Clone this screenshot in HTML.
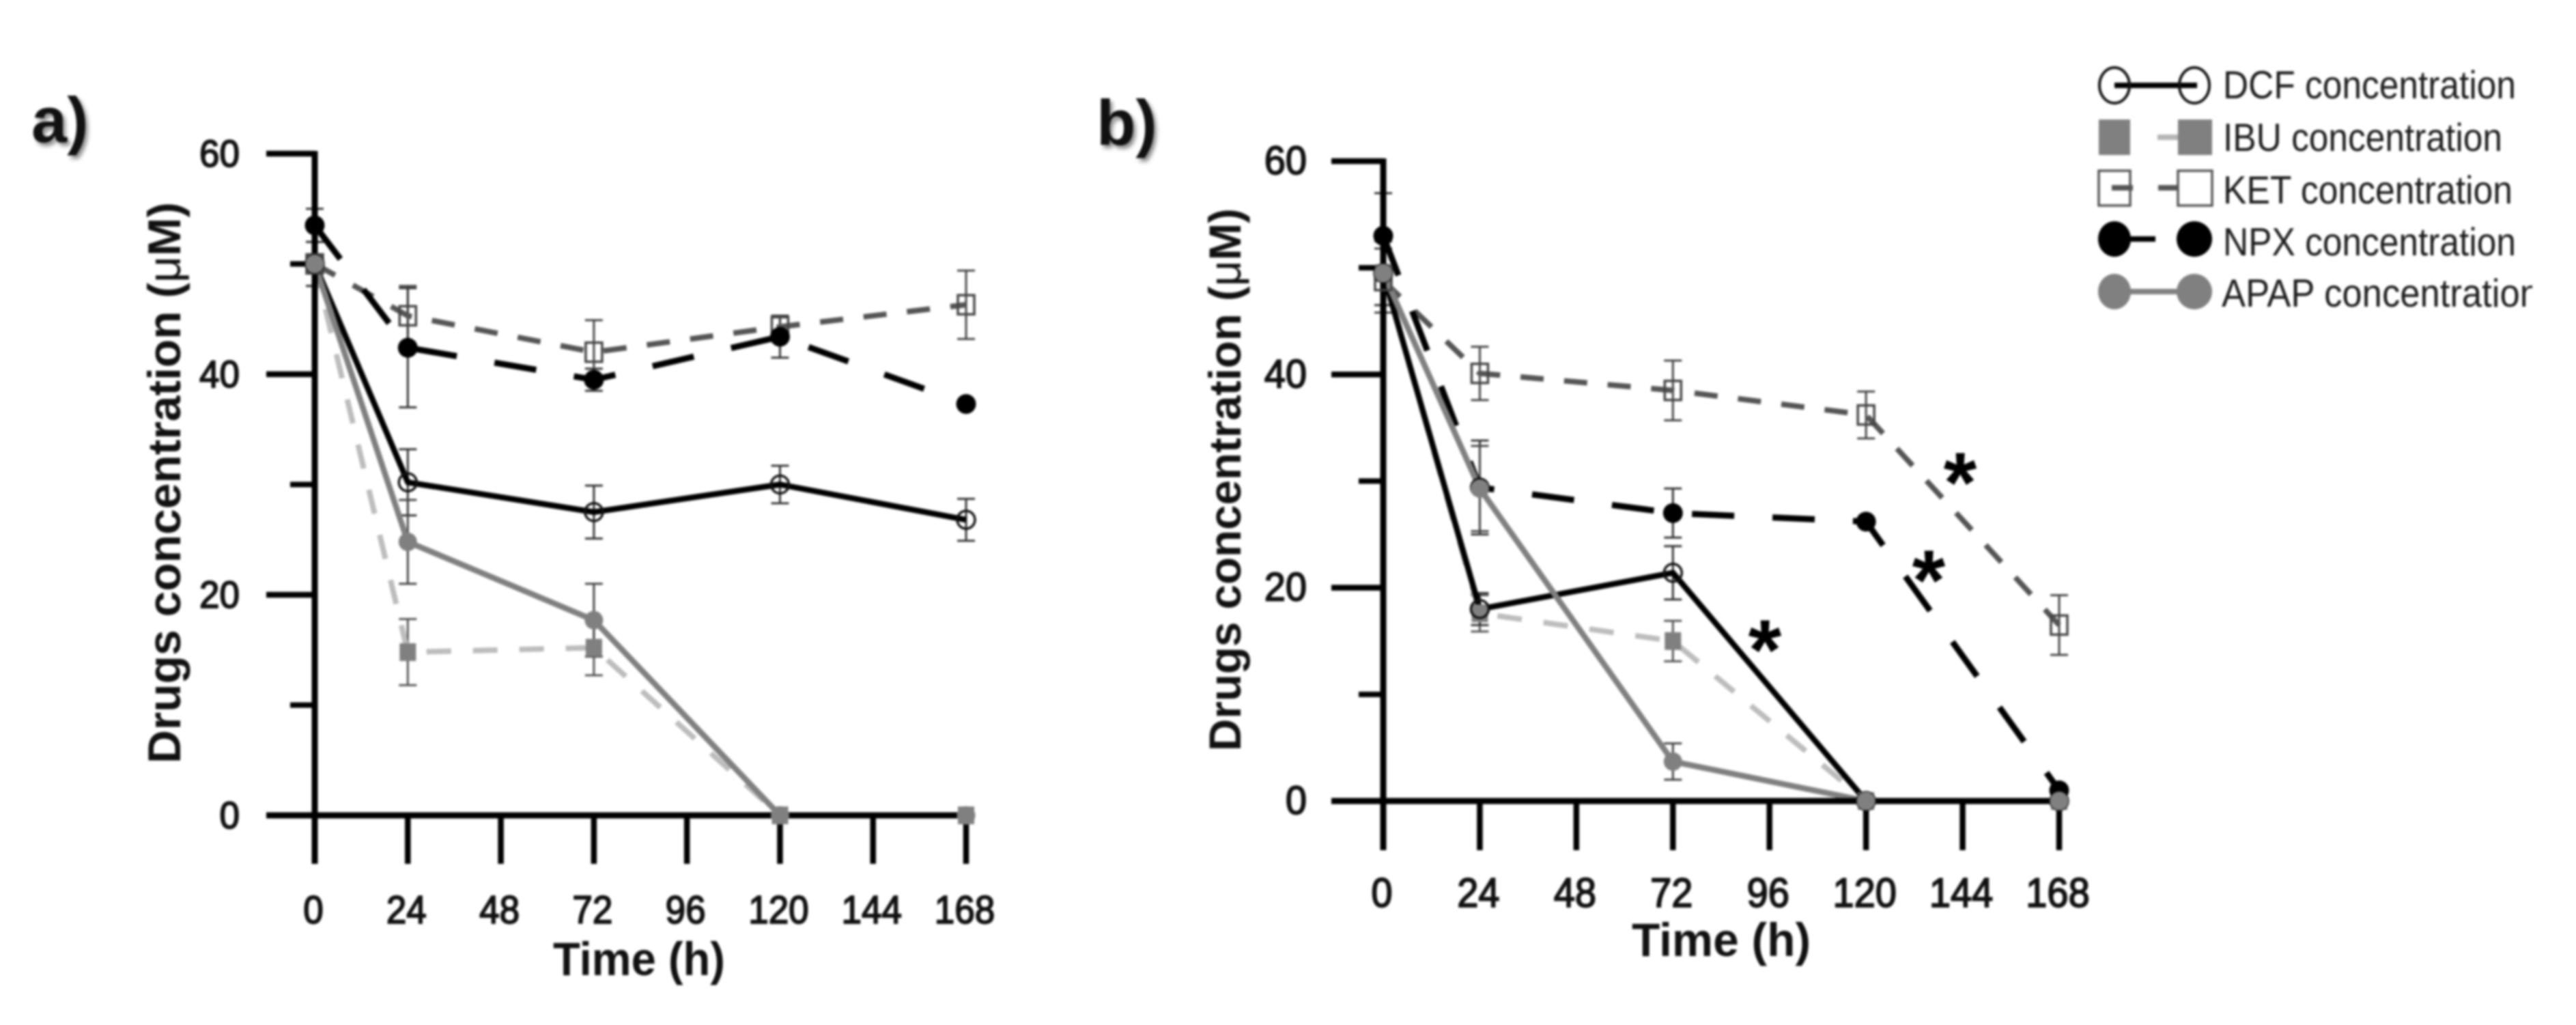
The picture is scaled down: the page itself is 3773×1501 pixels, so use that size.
<!DOCTYPE html>
<html lang="en">
<head>
<meta charset="utf-8">
<title>Drugs concentration over time</title>
<style>
html,body{margin:0;padding:0;background:#fff;width:3773px;height:1501px;overflow:hidden}
svg{display:block;filter:blur(1.6px)}
text{font-family:"Liberation Sans","DejaVu Sans",sans-serif}
.panel-letter{font-weight:bold;font-size:94px;fill:#111;filter:drop-shadow(4px 5px 3px rgba(0,0,0,.45))}
.legend-text{font-size:52px;fill:#1c1c1c}
</style>
</head>
<body>
<svg id="figure" xmlns="http://www.w3.org/2000/svg" width="3773" height="1501" viewBox="0 0 3773 1501">
  <rect width="3773" height="1501" fill="#fff"/>
  <text class="panel-letter" x="46" y="208">a)</text>
  <text class="panel-letter" x="1606" y="212">b)</text>
  <g id="panel-a"></g>
  <g id="panel-b"></g>
  <defs>
    <clipPath id="legend-clip"><rect x="3060" y="80" width="649" height="400"/></clipPath>
  </defs>
  <g clip-path="url(#legend-clip)">
    <g>
      <line x1="3097" y1="125" x2="3218" y2="125" stroke="#000" stroke-width="8"/>
      <ellipse cx="3097" cy="125" rx="22" ry="26" fill="none" stroke="#111" stroke-width="4"/>
      <ellipse cx="3214" cy="125" rx="22" ry="26" fill="none" stroke="#111" stroke-width="4"/>
      <text class="legend-text" transform="translate(3256,144) scale(1,1.1)" textLength="429" lengthAdjust="spacingAndGlyphs">DCF concentration</text>
    </g>
    <g>
      <line x1="3160" y1="201" x2="3200" y2="201" stroke="#b5b5b5" stroke-width="8"/>
      <rect x="3074" y="175" width="46" height="52" fill="#808080"/>
      <rect x="3190" y="175" width="50" height="52" fill="#808080"/>
      <text class="legend-text" transform="translate(3256,221) scale(1,1.1)" textLength="409" lengthAdjust="spacingAndGlyphs">IBU concentration</text>
    </g>
    <g>
      <rect x="3074" y="250" width="46" height="51" fill="none" stroke="#555" stroke-width="3.5"/>
      <rect x="3190" y="250" width="50" height="51" fill="none" stroke="#555" stroke-width="3.5"/>
      <line x1="3093" y1="275" x2="3124" y2="275" stroke="#555" stroke-width="8"/>
      <line x1="3161" y1="275" x2="3190" y2="275" stroke="#555" stroke-width="8"/>
      <text class="legend-text" transform="translate(3256,298) scale(1,1.1)" textLength="424" lengthAdjust="spacingAndGlyphs">KET concentration</text>
    </g>
    <g>
      <line x1="3097" y1="350" x2="3157" y2="350" stroke="#000" stroke-width="8"/>
      <ellipse cx="3097" cy="350" rx="24" ry="26" fill="#000"/>
      <ellipse cx="3214" cy="350" rx="26" ry="26" fill="#000"/>
      <text class="legend-text" transform="translate(3256,374) scale(1,1.1)" textLength="429" lengthAdjust="spacingAndGlyphs">NPX concentration</text>
    </g>
    <g>
      <line x1="3097" y1="427" x2="3214" y2="427" stroke="#808080" stroke-width="8"/>
      <ellipse cx="3097" cy="427" rx="24" ry="26" fill="#808080"/>
      <ellipse cx="3214" cy="427" rx="26" ry="26" fill="#808080"/>
      <text class="legend-text" transform="translate(3254,449) scale(1,1.1)" textLength="466" lengthAdjust="spacingAndGlyphs">APAP concentration</text>
    </g>
  </g>
</svg>
<script>
// ---- shared axis data ----
const timePoints = [0, 24, 72, 120, 168];
const xTickValues = [0, 24, 48, 72, 96, 120, 144, 168];
const xTickLabels = ['0', '24', '48', '72', '96', '120', '144', '168'];
const yMajorTicks = [0, 20, 40, 60];
const yMinorTicks = [10, 30, 50];
const yTickLabels = ['0', '20', '40', '60'];

// ---- panel a values ----
const aDCF = [50, 30.2, 27.5, 30, 26.8];
const aDCFErr = [2, 3, 2.4, 1.7, 1.9];
const aIBU = [50, 14.8, 15.2, 0, 0];
const aIBUErr = [2, 3, 2.5, 0, 0];
const aKET = [50, 45.3, 42, 44.3, 46.3];
const aKETErr = [2, 2.7, 2.9, 1, 3.1];
const aNPX = [53.5, 42.4, 39.5, 43.4, 37.3];
const aNPXErr = [1.5, 5.4, 1, 1.9, 0.3];
const aAPAP = [50, 24.8, 17.7, 0, 0];
const aAPAPErr = [2, 3.8, 3.3, 0, 0];

// ---- panel b values ----
const bDCF = [49.5, 18, 21.4, 0, 0];
const bDCFErr = [3, 1.5, 2.5, 0, 0];
const bIBU = [49.5, 17.6, 15, 0, 0];
const bIBUErr = [3, 1.7, 1.9, 0, 0];
const bKET = [48.8, 40.1, 38.5, 36.2, 16.5];
const bKETErr = [3, 2.5, 2.8, 2.2, 2.8];
const bNPX = [53, 29.4, 27, 26.2, 1];
const bNPXErr = [4, 4.4, 2.3, 0.3, 0.3];
const bAPAP = [49.5, 29.3, 3.7, 0, 0];
const bAPAPErr = [3, 4, 1.7, 0, 0];

const SVGNS = 'http://www.w3.org/2000/svg';

function make(parent, tag, attrs) {
  const el = document.createElementNS(SVGNS, tag);
  for (const k in attrs) el.setAttribute(k, attrs[k]);
  parent.appendChild(el);
  return el;
}

const seriesStyles = {
  ibu:  { line: '#bdbdbd', width: 8,   dash: '36 32', marker: 'fillsquare', err: '#555' },
  ket:  { line: '#555555', width: 8,   dash: '34 30', marker: 'opensquare', err: '#444' },
  npx:  { line: '#000000', width: 9,   dash: '62 56', marker: 'fillcircle', err: '#333' },
  dcf:  { line: '#000000', width: 8.5, dash: '',      marker: 'opencircle', err: '#333' },
  apap: { line: '#808080', width: 8.5, dash: '',      marker: 'graycircle', err: '#444' }
};

function drawPanel(id, geom, series) {
  const root = document.getElementById(id);
  const sx = v => geom.x0 + (v / 168) * (geom.x1 - geom.x0);
  const sy = v => geom.y0 - (v / 60) * (geom.y0 - geom.y60);

  // error bars
  Object.keys(series).forEach(key => {
    const s = series[key];
    const st = seriesStyles[key];
    s.values.forEach((v, i) => {
      const e = s.errors[i];
      if (e <= 0) return;
      const t = timePoints[i];
      const bar = make(root, 'path', {
        d: 'M' + sx(t) + ' ' + sy(v - e) + 'V' + sy(v + e) +
           'M' + (sx(t) - 13) + ' ' + sy(v - e) + 'h26' +
           'M' + (sx(t) - 13) + ' ' + sy(v + e) + 'h26',
        stroke: st.err, 'stroke-width': 3, fill: 'none'
      });
      
      
    });
  });

  // series lines
  Object.keys(series).forEach(key => {
    const s = series[key];
    const st = seriesStyles[key];
    const pts = s.values.map((v, i) => sx(timePoints[i]) + ',' + sy(v)).join(' ');
    const line = make(root, 'polyline', {
      points: pts, fill: 'none', stroke: st.line, 'stroke-width': st.width,
      'stroke-linejoin': 'round', 'stroke-dasharray': st.dash
    });
    
    
  });

  // axes
  const yAxis = make(root, 'line', { x1: geom.x0, y1: geom.y60 - 4, x2: geom.x0, y2: geom.tickBottom, stroke: '#000', 'stroke-width': 9 });
  
  
  const xAxis = make(root, 'line', { x1: geom.majorLeft, y1: geom.y0, x2: geom.x1 + 4, y2: geom.y0, stroke: '#000', 'stroke-width': 9 });
  
  

  yMajorTicks.forEach((v, i) => {
    const tick = make(root, 'line', { x1: geom.majorLeft, y1: sy(v), x2: geom.x0, y2: sy(v), stroke: '#000', 'stroke-width': 8.5 });
    
    
    const label = make(root, 'text', {
      transform: 'translate(' + geom.yLabelRight + ',' + (sy(v) + 19) + ') scale(1,1.05)',
      'text-anchor': 'end', 'font-size': geom.tickFont, fill: '#111', stroke: '#111', 'stroke-width': 1.8
    });
    
    
    label.textContent = yTickLabels[i];
  });
  yMinorTicks.forEach(v => {
    const tick = make(root, 'line', { x1: geom.minorLeft, y1: sy(v), x2: geom.x0, y2: sy(v), stroke: '#000', 'stroke-width': 8 });
    
    
  });
  xTickValues.forEach((v, i) => {
    const tick = make(root, 'line', { x1: sx(v), y1: geom.y0, x2: sx(v), y2: geom.tickBottom, stroke: '#000', 'stroke-width': 8.5 });
    
    
    const label = make(root, 'text', {
      transform: 'translate(' + (sx(v) - 2) + ',' + geom.xLabelBase + ') scale(1,1.08)',
      'text-anchor': 'middle', 'font-size': geom.tickFont, fill: '#111', stroke: '#111', 'stroke-width': 1.8
    });
    
    
    label.textContent = xTickLabels[i];
  });

  // markers
  Object.keys(series).forEach(key => {
    const s = series[key];
    const st = seriesStyles[key];
    s.values.forEach((v, i) => {
      const cx = sx(timePoints[i]);
      const cy = sy(v);
      let m;
      if (st.marker === 'opencircle') m = make(root, 'circle', { cx: cx, cy: cy, r: 13, fill: 'none', stroke: '#111', 'stroke-width': 3.5 });
      if (st.marker === 'fillcircle') m = make(root, 'circle', { cx: cx, cy: cy, r: 14.5, fill: '#000' });
      if (st.marker === 'graycircle') m = make(root, 'circle', { cx: cx, cy: cy, r: 13.5, fill: '#808080' });
      if (st.marker === 'fillsquare') m = make(root, 'rect', { x: cx - 12, y: cy - 13, width: 24, height: 26, fill: '#808080' });
      if (st.marker === 'opensquare') m = make(root, 'rect', { x: cx - 12, y: cy - 14, width: 24, height: 28, fill: 'none', stroke: '#444', 'stroke-width': 3.5 });
      
      
    });
  });

  // axis titles
  const xTitle = make(root, 'text', {
    transform: 'translate(' + geom.xTitleX + ',' + geom.xTitleBase + ') scale(1,1.05)',
    'font-size': 65, 'font-weight': 'bold', fill: '#111',
    textLength: geom.xTitleLen, lengthAdjust: 'spacingAndGlyphs'
  });
  
  
  xTitle.textContent = 'Time (h)';

  const yTitle = make(root, 'text', {
    transform: 'translate(' + geom.yTitleX + ',' + geom.yTitleBottom + ') rotate(-90)',
    'font-size': geom.yTitleFont, 'font-weight': 'bold', fill: '#111',
    textLength: geom.yTitleLen, lengthAdjust: 'spacingAndGlyphs'
  });
  
  
  yTitle.textContent = 'Drugs concentration (';
  const mu = make(yTitle, 'tspan', { 'font-weight': 'normal' });
  mu.textContent = '\u03BC';
  const rest = make(yTitle, 'tspan', {});
  rest.textContent = 'M)';
}

drawPanel('panel-a', {
  x0: 461, x1: 1415, y0: 1194, y60: 225, majorLeft: 390, minorLeft: 425, tickBottom: 1265,
  yLabelRight: 351, xLabelBase: 1352, tickFont: 53,
  xTitleX: 810, xTitleBase: 1428, xTitleLen: 252,
  yTitleX: 264, yTitleBottom: 1118, yTitleLen: 822, yTitleFont: 68
}, {
  ibu:  { values: aIBU,  errors: aIBUErr },
  ket:  { values: aKET,  errors: aKETErr },
  npx:  { values: aNPX,  errors: aNPXErr },
  dcf:  { values: aDCF,  errors: aDCFErr },
  apap: { values: aAPAP, errors: aAPAPErr }
});

drawPanel('panel-b', {
  x0: 2026, x1: 3016, y0: 1173, y60: 236, majorLeft: 1950, minorLeft: 1990, tickBottom: 1245,
  yLabelRight: 1914, xLabelBase: 1328, tickFont: 56,
  xTitleX: 2390, xTitleBase: 1400, xTitleLen: 262,
  yTitleX: 1817, yTitleBottom: 1100, yTitleLen: 795, yTitleFont: 66
}, {
  ibu:  { values: bIBU,  errors: bIBUErr },
  ket:  { values: bKET,  errors: bKETErr },
  npx:  { values: bNPX,  errors: bNPXErr },
  dcf:  { values: bDCF,  errors: bDCFErr },
  apap: { values: bAPAP, errors: bAPAPErr }
});

// significance stars
const figure = document.getElementById('figure');
const star1 = make(figure, 'text', { x: 2871, y: 750, 'font-size': 125, 'font-weight': 'bold', 'text-anchor': 'middle', fill: '#000' });


star1.textContent = '*';
const star2 = make(figure, 'text', { x: 2825, y: 893, 'font-size': 125, 'font-weight': 'bold', 'text-anchor': 'middle', fill: '#000' });


star2.textContent = '*';
const star3 = make(figure, 'text', { x: 2585, y: 995, 'font-size': 125, 'font-weight': 'bold', 'text-anchor': 'middle', fill: '#000' });


star3.textContent = '*';
</script>
</body>
</html>
